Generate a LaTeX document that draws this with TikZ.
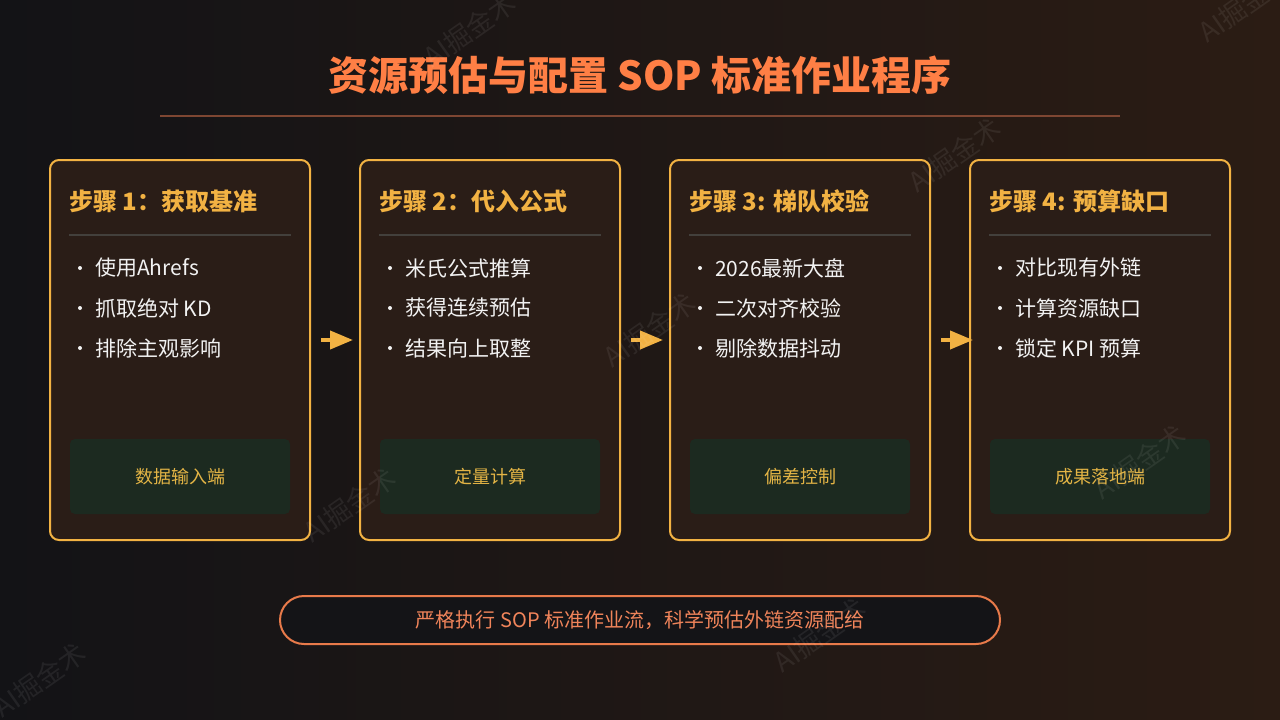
\documentclass[tikz,border=0pt]{standalone}
\usepackage{fontspec}
\setmainfont{Noto Sans CJK SC}
\usetikzlibrary{arrows.meta,calc}
\definecolor{bgL}{HTML}{131316}
\definecolor{bgR}{HTML}{2B1C14}
\definecolor{cardfill}{HTML}{2A1D17}
\definecolor{gold}{HTML}{F2B243}
\definecolor{orangeT}{HTML}{FF7F45}
\definecolor{lineBr}{HTML}{7E4632}
\definecolor{divgray}{HTML}{43403C}
\definecolor{greenbox}{HTML}{1C2A20}
\definecolor{greentxt}{HTML}{E3B445}
\definecolor{pillfill}{HTML}{141417}
\definecolor{pillline}{HTML}{E87A4A}
\definecolor{pilltxt}{HTML}{F0845A}
\definecolor{bullettxt}{HTML}{F2F2F2}
\tikzset{
  card/.style={draw=gold, line width=2pt, fill=cardfill, rounded corners=9pt, minimum width=260pt, minimum height=380pt, inner sep=0pt},
  head/.style={anchor=west, text=gold, font=\bfseries\fontsize{24}{28}\selectfont, inner sep=0pt},
  divline/.style={draw=divgray, line width=1.5pt},
  item/.style={anchor=west, text=bullettxt, font=\fontsize{21}{25}\selectfont, inner sep=0pt},
  dot/.style={circle, fill=bullettxt, minimum size=4pt, inner sep=0pt},
  tag/.style={fill=greenbox, rounded corners=5pt, minimum width=220pt, minimum height=75pt, text=greentxt, font=\fontsize{18}{21}\selectfont, inner sep=0pt},
  flow/.style={draw=gold, line width=4pt, -{Triangle[length=23pt,width=18pt]}},
  wm/.style={text=white, opacity=0.07, rotate=35, font=\fontsize{27}{30}\selectfont},
}
\begin{document}
\begin{tikzpicture}[x=1pt,y=-1pt]
\useasboundingbox (0,0) rectangle (1280,720);
\shade[left color=bgL, right color=bgR] (0,0) rectangle (1280,720);

% title
\node[text=orangeT, font=\bfseries\fontsize{40}{46}\selectfont, inner sep=0pt] (title) at (640,75) {资源预估与配置 SOP 标准作业程序};
\coordinate (tl) at (160,116);
\coordinate (tr) at (1120,116);
\draw[draw=lineBr, line width=2pt] (tl) -- (tr);

% cards
\foreach \cx/\hd/\a/\b/\c/\tg [count=\i] in {
  180/{步骤 1：获取基准}/{使用Ahrefs}/{抓取绝对 KD}/{排除主观影响}/{数据输入端},
  490/{步骤 2：代入公式}/{米氏公式推算}/{获得连续预估}/{结果向上取整}/{定量计算},
  800/{步骤 3: 梯队校验}/{2026最新大盘}/{二次对齐校验}/{剔除数据抖动}/{偏差控制},
  1100/{步骤 4: 预算缺口}/{对比现有外链}/{计算资源缺口}/{锁定 KPI 预算}/{成果落地端}} {
  \node[card] (card\i) at (\cx,350) {};
  \node[head] (head\i) at ($(card\i.north west)+(20,42)$) {\hd};
  \coordinate (dl\i) at ($(card\i.north west)+(20,76)$);
  \coordinate (dr\i) at ($(card\i.north east)+(-20,76)$);
  \draw[divline] (dl\i) -- (dr\i);
  \node[dot] (d\i a) at ($(card\i.north west)+(31,109)$) {};
  \node[dot] (d\i b) at ($(card\i.north west)+(31,149)$) {};
  \node[dot] (d\i c) at ($(card\i.north west)+(31,189)$) {};
  \node[item] (t\i a) at ($(card\i.north west)+(46,109)$) {\a};
  \node[item] (t\i b) at ($(card\i.north west)+(46,149)$) {\b};
  \node[item] (t\i c) at ($(card\i.north west)+(46,189)$) {\c};
  \node[tag] (tag\i) at ($(card\i.north)+(0,317.5)$) {\tg};
}

% arrows
\draw[flow] ([xshift=10pt,yshift=10pt]card1.east) -- ([xshift=42pt,yshift=10pt]card1.east) coordinate (a1end);
\draw[flow] ([xshift=10pt,yshift=10pt]card2.east) -- ([xshift=42pt,yshift=10pt]card2.east) coordinate (a2end);
\draw[flow] ([xshift=10pt,yshift=10pt]card3.east) -- ([xshift=42pt,yshift=10pt]card3.east) coordinate (a3end);

% bottom pill
\node[draw=pillline, line width=2pt, fill=pillfill, rounded corners=24pt, minimum width=720pt, minimum height=48pt, inner sep=0pt, text=pilltxt, font=\fontsize{20}{23}\selectfont] (pill) at (640,620) {严格执行 SOP 标准作业流，科学预估外链资源配给};

% watermarks (on top)
\foreach \wx/\wy [count=\wi] in {470/30, 955/155, 650/330, 350/505, 1140/462, 820/635, 40/680, 1245/5} {
  \node[wm] (wm\wi) at (\wx,\wy) {AI掘金术};
}
\end{tikzpicture}
\end{document}
